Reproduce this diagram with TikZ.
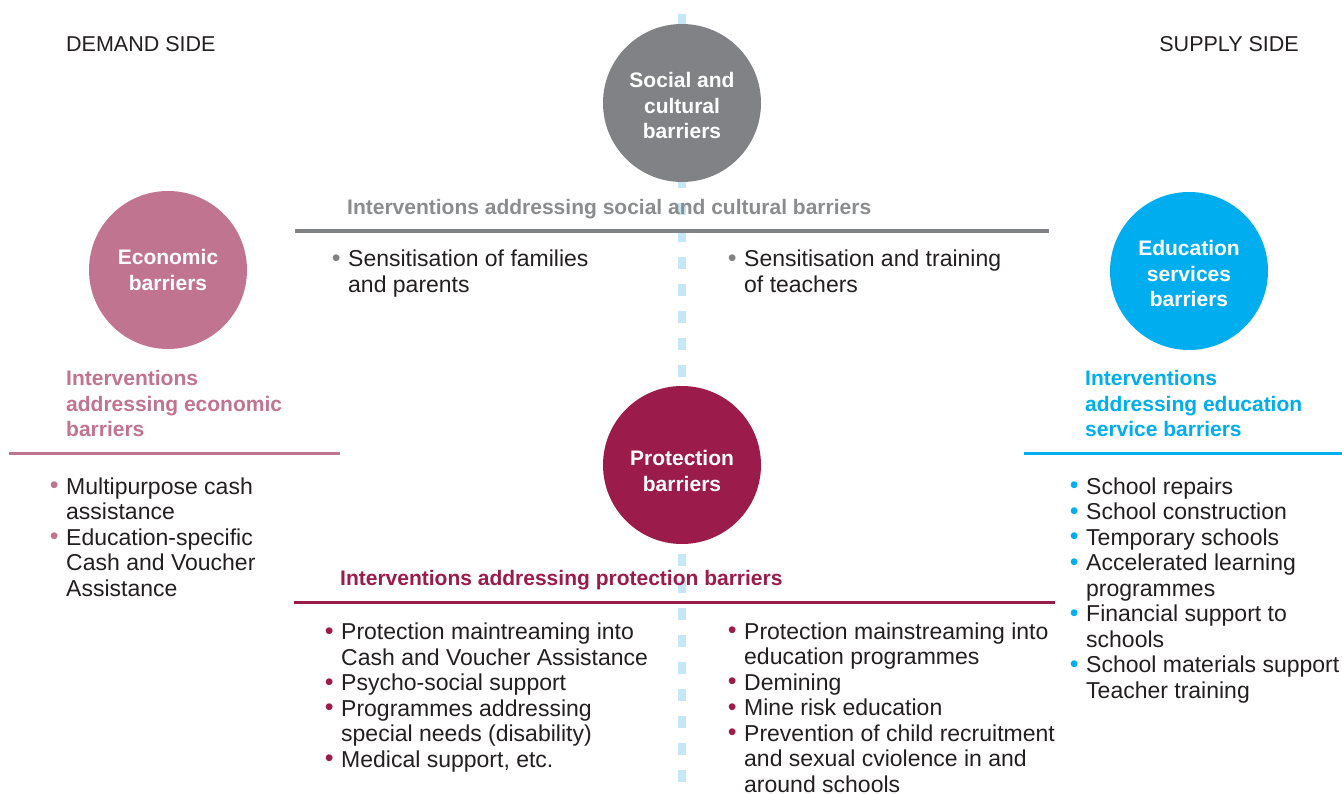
\documentclass[tikz,border=0pt]{standalone}
\usepackage{fontspec}
\setmainfont{Liberation Sans}
\usepackage{xcolor}
\definecolor{socgray}{HTML}{808285}
\definecolor{sochead}{HTML}{8A8C8E}
\definecolor{econpink}{HTML}{C1748F}
\definecolor{edublue}{HTML}{00AEEF}
\definecolor{protred}{HTML}{9B1B4A}
\definecolor{dashblue}{HTML}{C5E7F6}
\definecolor{bodytext}{HTML}{231F20}
\newcommand\bodyfont{\fontsize{23}{25.5}\selectfont}
\newcommand\headfont{\fontsize{21}{25.6}\selectfont\bfseries}
\newcommand\sidefont{\fontsize{21.5}{25}\selectfont}
\newcommand\bl[1]{\llap{\textcolor{#1}{\fontsize{25}{25}\selectfont\raisebox{0.5pt}{•}}\hspace{7.5pt}}}
\tikzset{
  circ/.style={circle, fill=#1, minimum size=158pt, inner sep=0pt},
  ctext/.style={anchor=base, inner sep=0pt, text=white, font=\headfont},
  listtxt/.style={anchor=base west, inner sep=0pt, text=bodytext, font=\bodyfont},
  headtxt/.style={anchor=base west, inner sep=0pt, font=\headfont, text=#1},
  rulebar/.style={draw=#1, line width=3pt},
  dashline/.style={draw=dashblue, line width=8pt, dash pattern=on 12pt off 15pt},
}
\begin{document}
\begin{tikzpicture}[x=1pt,y=-1pt]
\useasboundingbox[fill=white] (0,0) rectangle (1342,794);
% dashed divider
\coordinate (dtop) at (682,14);
\coordinate (dbot) at (682,794);
\draw[dashline] (dtop) -- (dbot);

% side labels
\node[anchor=base west, inner sep=0pt, font=\sidefont, text=bodytext] (demand) at (66,52) {DEMAND SIDE};
\node[anchor=base east, inner sep=0pt, font=\sidefont, text=bodytext] (supply) at (1299,52) {SUPPLY SIDE};

% circles
\node[circ=socgray] (soc) at (682,103) {};
\node[circ=econpink] (econ) at (168,270) {};
\node[circ=edublue] (edu) at (1189,271) {};
\node[circ=protred] (prot) at (682,465) {};
\node[ctext] (soct) at (682,87.5) {\begin{tabular}[t]{@{}c@{}}Social and\\cultural\\barriers\end{tabular}};
\node[ctext] (econt) at (168,264.5) {\begin{tabular}[t]{@{}c@{}}Economic\\barriers\end{tabular}};
\node[ctext] (edut) at (1189,255.5) {\begin{tabular}[t]{@{}c@{}}Education\\services\\barriers\end{tabular}};
\node[ctext] (prott) at (682,465.5) {\begin{tabular}[t]{@{}c@{}}Protection\\barriers\end{tabular}};

% social and cultural interventions
\node[headtxt=sochead] (sochd) at (347,214.5) {Interventions addressing social and cultural barriers};
\coordinate (socl1) at (295,231);
\coordinate (socl2) at (1049,231);
\draw[rulebar=socgray, line width=4pt] (socl1) -- (socl2);
\node[listtxt] (socL) at (348,267) {\begin{tabular}[t]{@{}l@{}}\bl{socgray}Sensitisation of families\\and parents\end{tabular}};
\node[listtxt] (socR) at (744,267) {\begin{tabular}[t]{@{}l@{}}\bl{socgray}Sensitisation and training\\of teachers\end{tabular}};

% economic interventions
\node[headtxt=econpink] (econhd) at (66,385.5) {\begin{tabular}[t]{@{}l@{}}Interventions\\addressing economic\\barriers\end{tabular}};
\coordinate (econl1) at (9,453);
\coordinate (econl2) at (340,453);
\draw[rulebar=econpink] (econl1) -- (econl2);
\node[listtxt] (econlist) at (66,494) {\begin{tabular}[t]{@{}l@{}}\bl{econpink}Multipurpose cash\\assistance\\ \bl{econpink}Education-specific\\Cash and Voucher\\Assistance\end{tabular}};

% education service interventions
\node[headtxt=edublue] (eduhd) at (1085,385.5) {\begin{tabular}[t]{@{}l@{}}Interventions\\addressing education\\service barriers\end{tabular}};
\coordinate (edul1) at (1024,453);
\coordinate (edul2) at (1342,453);
\draw[rulebar=edublue] (edul1) -- (edul2);
\node[listtxt] (edulist) at (1086,494) {\begin{tabular}[t]{@{}l@{}}\bl{edublue}School repairs\\ \bl{edublue}School construction\\ \bl{edublue}Temporary schools\\ \bl{edublue}Accelerated learning\\programmes\\ \bl{edublue}Financial support to\\schools\\ \bl{edublue}School materials support\\Teacher training\end{tabular}};

% protection interventions
\node[headtxt=protred] (prothd) at (340,585.5) {Interventions addressing protection barriers};
\coordinate (protl1) at (294,602);
\coordinate (protl2) at (1055,602);
\draw[rulebar=protred] (protl1) -- (protl2);
\node[listtxt] (protL) at (341,639.5) {\begin{tabular}[t]{@{}l@{}}\bl{protred}Protection maintreaming into\\Cash and Voucher Assistance\\ \bl{protred}Psycho-social support\\ \bl{protred}Programmes addressing\\special needs (disability)\\ \bl{protred}Medical support, etc.\end{tabular}};
\node[listtxt] (protR) at (744,639) {\begin{tabular}[t]{@{}l@{}}\bl{protred}Protection mainstreaming into\\education programmes\\ \bl{protred}Demining\\ \bl{protred}Mine risk education\\ \bl{protred}Prevention of child recruitment\\and sexual cviolence in and\\around schools\end{tabular}};
\end{tikzpicture}
\end{document}
